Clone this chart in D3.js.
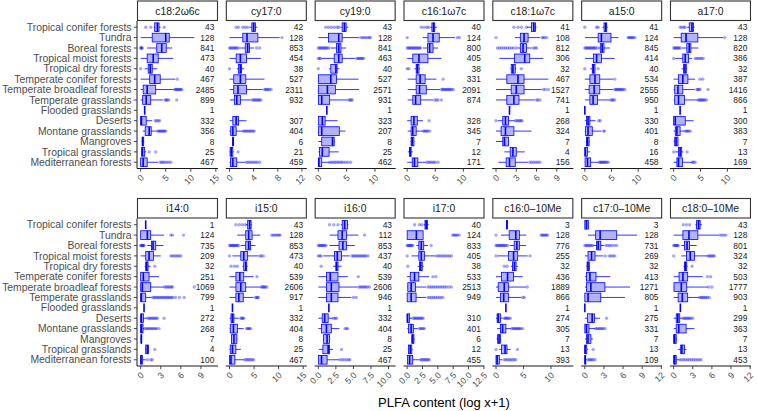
<!DOCTYPE html>
<html><head><meta charset="utf-8">
<script src="https://cdn.jsdelivr.net/npm/d3@7"></script>
<style>body{margin:0;background:#fff}svg{display:block}</style>
</head><body>
<svg id="chart" width="757" height="411"></svg>
<script>
// ---- data ----
const categories = ["Tropical conifer forests","Tundra","Boreal forests","Tropical moist forests","Tropical dry forests","Temperate conifer forests","Temperate broadleaf forests","Temperate grasslands","Flooded grasslands","Deserts","Montane grasslands","Mangroves","Tropical grasslands","Mediterranean forests"];
const plfaNames = ["c18:2ω6c","cy17:0","cy19:0","c16:1ω7c","c18:1ω7c","a15:0","a17:0","i14:0","i15:0","i16:0","i17:0","c16:0–10Me","c17:0–10Me","c18:0–10Me"];
// axis maximum (data range upper end) per panel
const axisMax = [14.7,12.2,13.0,13.1,10.9,13.8,13.7,11.0,15.0,10.5,12.0,13.4,11.55,11.55];
const tickValues = [[0,5,10,15],[0,4,8,12],[0,5,10],[0,5,10],[0,3,6,9],[0,5,10],[0,5,10],[0,3,6,9],[0,5,10,15],[0,2.5,5,7.5,10],[0,2.5,5,7.5,10,12.5],[0,5,10],[0,3,6,9,12],[0,3,6,9,12]];
const tickDecimals = [0,0,0,0,0,0,0,0,0,1,1,0,0,0];

// rows: [lower whisker, q1, median, q3, upper whisker, n, outliers]
const box_c18_2w6c = [
 [2.6,2.8,3.33,3.67,4.0,43,[1.0,2.0,4.7]],
 [0,2.3,5.0,5.7,10.7,128,[]],
 [1.3,3.2,4.2,5.1,6.3,841,[0,0.1,0.2,0.3]],
 [0,1.3,2.5,3.5,6.5,473,[]],
 [0.8,1.5,1.9,2.3,3.3,40,[0]],
 [0,1.8,2.8,3.9,6.9,467,[7.3]],
 [0,0.5,1.3,3.0,6.6,2485,[6.8,7.0,7.2,7.4,7.6,7.8,8.0,8.2]],
 [0,0.4,1.1,2.0,4.5,899,[4.9,5.1,5.3,5.6,7.2]],
 [0.8,0.8,0.8,0.8,0.8,1,[]],
 [0,0,0.15,1.1,2.3,332,[2.9,3.2,3.5,3.8]],
 [0.4,0.9,1.7,2.1,3.2,356,[3.4,3.6,3.8,4.0,4.2,4.4,4.6,4.8,5.0]],
 [0.2,0.3,0.4,0.6,0.7,8,[]],
 [0.1,0.2,0.35,0.8,1.1,25,[1.7,3.0]],
 [0,0,0.5,1.3,3.5,467,[3.9,4.2,4.5,4.8,5.2,5.6,6.0]]
];
const box_cy17_0 = [
 [3.3,3.7,4.0,4.3,4.6,42,[1.1,1.5,2.2,2.6,3.0]],
 [0,2.2,2.9,4.7,8.3,128,[8.7]],
 [1.6,2.6,3.0,3.3,4.1,853,[0,0.2,0.4,0.6,0.8,1.0,1.2,1.4,4.5,5.0]],
 [0,1.1,1.8,2.8,5.2,454,[]],
 [1.2,1.5,1.8,2.0,2.4,38,[0]],
 [0,0.7,1.8,2.7,5.8,527,[]],
 [0,0.7,1.4,2.8,5.5,2311,[5.8,6.0,6.2,6.4,6.6,6.9]],
 [0.05,0.8,1.2,1.8,3.6,932,[3.8,4.0,4.2,4.4,4.6,4.8,5.0,5.2]],
 null,
 [0,0.55,1.1,1.5,2.8,307,[]],
 [0,0.2,0.55,1.1,2.2,404,[2.3,2.5,2.7,2.9,3.1,3.3,3.5,3.7,3.9,4.1]],
 [0.5,0.5,0.6,0.65,0.7,6,[]],
 [0,0.1,0.3,0.55,0.7,21,[1.4]],
 [0,0.15,0.55,1.2,2.6,459,[2.8,3.1,3.4,3.7,4.0,4.3,4.6,5.0]]
];
const box_cy19_0 = [
 [3.9,4.2,4.6,4.9,5.3,43,[1.3,1.8,2.3,2.8,3.3,3.6]],
 [0,1.8,3.6,4.2,7.2,128,[7.5,7.8,8.1,8.4,8.7,9.0,9.2]],
 [2.2,3.2,3.6,4.0,4.9,841,[0,0.2,0.4,0.6,0.8,1.0,1.2,1.4,1.6,1.9]],
 [0.6,2.8,3.6,4.2,6.5,463,[0,0.2,0.4,6.8,7.0,7.2,7.4,7.6,7.8,8.0]],
 [1.9,2.2,3.1,3.3,3.7,40,[0]],
 [0,0,2.2,3.2,7.1,527,[]],
 [0,0,1.6,3.0,7.2,2571,[]],
 [0,0,0.6,2.0,5.2,931,[5.4,5.6,5.8,6.0]],
 [1.5,1.5,1.5,1.5,1.5,1,[]],
 [0,0,0.7,1.2,3.4,323,[]],
 [0,0,0.6,3.7,4.8,207,[]],
 [0,0.6,2.5,2.8,2.9,8,[]],
 [0,0.2,0.7,1.9,3.6,25,[]],
 [0,0,0.1,0.6,1.9,462,[2.0,2.3,2.6,2.9,3.2,3.5,3.8,4.1,4.4,4.8,5.2,5.7]]
];
const box_c16_1w7c = [
 [4.1,4.4,4.7,4.9,5.3,40,[2.5,3.0,3.5,3.8]],
 [2.8,3.7,4.6,5.7,8.5,124,[0,8.9,9.3]],
 [2.8,3.6,4.0,4.6,5.5,800,[0,0.2,0.4,0.6,0.8,1.0,1.2,1.4,1.6,1.8,2.0,2.2,2.4]],
 [0,1.0,2.1,3.7,6.1,405,[]],
 [1.3,1.6,1.8,2.1,2.3,38,[0,0.3]],
 [0.1,1.6,2.3,3.2,5.2,331,[6.4]],
 [0.1,1.6,2.2,3.4,5.8,2091,[6.1,6.3,6.5,6.7,6.9,7.1,7.3,7.5,7.7,7.9,8.2]],
 [0.1,1.0,1.5,2.4,4.6,874,[4.9,5.2,5.5,6.1]],
 null,
 [0,0.7,1.2,1.8,2.8,328,[3.9]],
 [0.1,0.7,1.0,1.6,2.8,345,[2.9,3.1,3.3,3.5,3.7,4.0]],
 [0.6,0.7,0.9,1.2,1.3,7,[]],
 [0.1,0.4,0.55,0.7,1.0,12,[]],
 [0,0.9,1.3,1.9,3.3,171,[3.5,3.8,4.1,4.4,4.7,5.0,5.5]]
];
const box_c18_1w7c = [
 [4.6,5.25,5.6,5.85,6.0,41,[2.65,3.25,3.75,4.5]],
 [2.8,3.6,4.15,4.75,6.5,108,[0,6.8,7.0,7.2,7.5]],
 [3.2,3.6,4.0,4.5,5.25,812,[0.2,0.5,0.8,1.1,1.4,1.7,2.0,2.3,2.6,3.0,5.5,5.8,6.0]],
 [0.5,2.75,4.25,5.0,7.0,306,[]],
 [2.15,2.25,2.5,2.85,3.0,32,[3.75]],
 [0,1.6,3.25,4.15,7.75,467,[]],
 [0,2.25,3.0,4.15,6.75,1527,[7.0,7.3,7.75]],
 [0,1.6,2.65,3.4,5.75,741,[6.0,6.2,6.5]],
 [2.0,2.0,2.0,2.0,2.0,1,[]],
 [0.25,1.0,1.4,1.85,2.75,268,[0,2.9,3.1,3.3,3.5,3.7,3.85]],
 [0,0.75,1.4,2.65,5.25,324,[]],
 [0,1.0,1.25,1.85,1.85,7,[]],
 [1.25,2.1,2.5,3.0,4.25,4,[]],
 [0.35,1.5,2.0,2.85,4.75,156,[5.0,5.3,5.6,5.9,6.2,6.5]]
];
const box_a15_0 = [
 [3.3,3.6,3.9,4.1,4.3,41,[0,2.2,2.5]],
 [0,2.5,3.1,4.9,6.3,124,[8.1,8.3,8.5,8.7,8.9,9.1,9.4]],
 [2.5,2.9,3.25,3.6,4.7,845,[0,0.2,0.4,0.6,0.8,1.0,1.2,1.4,1.6,1.8,2.0,2.3]],
 [0,1.6,2.2,3.1,5.6,414,[]],
 [1.0,1.4,1.6,1.9,2.0,40,[0,2.5]],
 [0,0.95,1.9,2.8,5.3,534,[5.6]],
 [0,0.8,1.75,2.8,5.3,2555,[5.6,5.8,6.0,6.2,6.4,6.6,6.8,7.0,7.2,7.5]],
 [0,0.95,1.55,2.4,4.7,950,[4.9,5.1,5.3,5.6]],
 [0,0,0,0,0,1,[]],
 [0,0.3,0.6,0.95,2.0,330,[2.6,2.9]],
 [0,0.1,0.6,1.4,3.1,401,[3.5,3.7]],
 [0.2,0.3,0.5,0.8,0.9,8,[]],
 [0,0,0.1,0.5,1.0,16,[]],
 [0,0.05,0.5,1.1,2.5,458,[2.7,2.9,3.1,3.3,3.5,3.7,3.9,4.1,4.4]]
];
const box_a17_0 = [
 [2.5,2.9,3.4,3.7,3.9,43,[1.2,1.5,1.9,2.1]],
 [0,1.4,2.3,4.5,9.2,128,[9.5]],
 [1.5,2.45,2.9,3.2,4.6,820,[0,0.2,0.4,0.6,0.8,1.0,1.2]],
 [0.3,1.7,2.15,2.75,3.4,386,[0,4.0,4.3,4.6,4.9,5.2,5.5]],
 [1.5,1.85,2.1,2.35,2.5,32,[]],
 [0,0.9,1.7,2.65,4.0,387,[4.9,5.4]],
 [0,0.2,0.8,1.7,3.9,1416,[4.3,4.5,4.7,4.9,6.4]],
 [0,0.2,0.9,2.0,4.5,866,[4.6,4.8,5.0,5.2,5.4,5.6,5.8,6.1]],
 [1.2,1.2,1.2,1.2,1.2,1,[]],
 [0,0,0.3,2.15,3.7,300,[]],
 [0,0.3,0.6,1.2,2.1,383,[2.2,2.4,2.6,2.8,3.1]],
 [0,0.2,0.45,0.8,0.8,7,[]],
 [0.3,0.9,1.2,1.5,1.8,13,[0,2.5]],
 [0,0.6,0.9,1.65,3.4,169,[3.5,3.7,4.0]]
];
const box_i14_0 = [
 [0.75,0.75,0.75,0.75,0.75,1,[]],
 [0,0,1.0,1.5,3.5,124,[4.5,4.75,6.4]],
 [1.0,1.6,1.85,2.25,3.4,735,[0,0.1,0.2,0.3,0.4,0.5]],
 [0,0.75,1.25,1.9,3.0,209,[4.5,4.75,5.0,5.25,5.5,5.75,6.0]],
 [0.6,0.75,0.9,1.1,1.5,32,[2.1]],
 [0,0,0.4,1.25,2.75,251,[]],
 [0,0,0.25,1.5,3.5,1069,[3.6,3.8,4.0,4.2,4.4,4.6,4.75,8.0]],
 [0,0,0.1,0.75,1.6,799,[1.8,2.0,2.2,2.4,2.6,2.8,3.0,3.2,3.4,3.6,3.8,4.0,4.2,4.4,4.6,4.8,5.2,5.8,6.5]],
 [0.5,0.5,0.5,0.5,0.5,1,[]],
 [0,0,0.1,0.4,1.0,272,[1.1,1.3,1.5,1.7,1.9,2.1,2.3,2.5,3.5]],
 [0,0,0.1,0.35,0.5,268,[0.6,0.8,1.0,1.2,1.4,1.6,1.8,2.0,2.2,2.4,2.75]],
 [0,0.05,0.1,0.15,0.2,7,[]],
 [0.7,0.75,1.0,1.15,1.2,4,[2.1]],
 [0,0,0.05,0.25,0.75,100,[1.0,1.5,1.75]]
];
const box_i15_0 = [
 [3.3,3.7,4.1,4.4,4.6,43,[1.3,2.0,2.6,3.2]],
 [1.6,3.3,3.9,4.6,6.3,128,[8.6,8.9,9.2,9.5,9.8,10.1,10.3]],
 [2.3,3.3,3.9,4.3,5.3,853,[0,0.2,0.4,0.6,0.8,1.0,1.2,1.4,1.6,1.9]],
 [0.6,2.3,2.9,3.7,5.9,473,[0,6.2,6.5,6.9]],
 [2.6,2.9,3.3,3.5,3.7,40,[0.3,1.0,1.6]],
 [0,1.3,2.1,2.9,4.9,539,[5.6]],
 [0,1.3,2.3,3.3,6.3,2606,[6.5,6.7,6.9,7.1,7.3,7.6]],
 [0,1.3,1.9,2.8,4.9,917,[5.3,5.5,5.7,5.9]],
 [0.6,0.6,0.6,0.6,0.6,1,[]],
 [0,0.3,0.6,0.9,1.9,332,[2.3,2.5,2.7,2.9]],
 [0,0.15,0.8,1.6,2.9,404,[3.5,3.7,3.9,4.1,4.3]],
 [0.3,0.4,0.9,1.5,1.6,8,[]],
 [0,0.15,0.6,1.3,2.3,25,[]],
 [0,0,0.3,1.1,2.9,467,[3.1,3.4,3.7,4.0,4.3,4.6,4.9]]
];
const box_i16_0 = [
 [3.2,3.4,3.75,4.15,4.3,43,[1.6,2.2,2.8]],
 [1.6,2.8,3.4,4.0,5.7,112,[6.6]],
 [1.6,2.95,3.5,4.0,5.2,853,[0,0.15,0.3,0.45,0.6,0.75,0.9,1.1]],
 [0.7,2.3,2.7,3.3,4.5,437,[0,0.2,0.4,4.8,5.0,5.2,5.4,5.6,5.8,6.0,6.2,6.4,6.6,6.8,7.1]],
 [2.1,2.5,2.6,2.8,3.3,40,[0.4]],
 [0,1.15,1.7,2.8,4.2,539,[5.7]],
 [0,1.15,1.85,2.95,5.6,2606,[5.8,6.0,6.2,6.4,6.6,6.8,7.0,7.3]],
 [0,1.15,1.85,2.8,4.7,946,[5.0,5.4]],
 [1.5,1.5,1.5,1.5,1.5,1,[]],
 [0,0.55,0.9,1.4,2.1,332,[2.2,2.4,2.6]],
 [0,0.45,1.15,1.85,3.0,404,[3.8,4.0,4.2]],
 [0.65,0.75,1.25,1.6,1.7,8,[]],
 [0.1,0.65,1.4,1.6,2.1,25,[3.3]],
 [0,0,0.45,1.25,2.95,467,[3.1,3.4,3.7,4.0,4.3,4.5]]
];
const box_i17_0 = [
 [2.7,2.9,3.1,3.3,3.5,40,[1.2,2.0,2.4]],
 [0,0,1.5,2.6,2.6,124,[7.4,7.6,7.8,8.0,8.2,8.5]],
 [1.5,1.9,2.3,2.7,3.4,833,[0,0.15,0.3,0.45,0.6,0.75,0.9,3.9]],
 [0.7,1.9,2.3,2.8,4.6,405,[0,4.8,5.1,5.4,5.7,6.0,6.3,6.6,6.9,7.2]],
 [1.7,2.0,2.2,2.45,2.7,38,[0.1]],
 [0,0.5,1.2,1.9,3.6,533,[4.2,4.7]],
 [0,0.1,0.65,1.35,3.1,2513,[3.4,3.7,4.0,4.3,4.6,4.9,5.2,5.5,5.8,6.1,6.4,6.8,7.2]],
 [0,0,0.65,1.45,3.1,949,[3.4,3.7,4.0,4.3,4.6,4.9,5.2,5.5,5.8]],
 null,
 [0,0,0.05,0.4,0.8,310,[1.0,1.2,1.4,1.6,1.8,2.0,2.2,2.4,2.6]],
 [0,0.2,0.65,1.0,1.75,401,[2.0,2.2,2.4,2.6,2.8]],
 [0.7,0.75,0.9,1.1,1.2,6,[]],
 [0.1,0.2,0.5,0.75,0.9,12,[]],
 [0,0.05,0.4,0.9,2.0,455,[2.2,2.4,2.6,2.8,3.0,3.2,3.4,3.6]]
];
const box_c16_0_10Me = [
 [1.9,1.9,2.0,2.05,2.1,3,[]],
 [0.9,2.4,3.6,4.25,5.5,128,[0,8.2,8.4,8.6,8.8,9.0,9.2,9.4]],
 [2.5,3.3,3.8,4.25,5.45,776,[0,0.2,0.4,0.6,0.8,1.0,1.2,1.4,1.6,1.8,2.1]],
 [0.3,2.25,3.2,3.95,5.75,255,[0,6.2]],
 [2.7,3.0,3.35,3.65,4.0,32,[1.5,2.0]],
 [0,1.0,2.1,3.2,4.85,436,[]],
 [0,0.4,1.5,2.25,5.45,1889,[5.7]],
 [0,0.8,1.4,2.25,4.55,866,[4.85,5.15]],
 [1.8,1.8,1.8,1.8,1.8,1,[]],
 [0,0.2,0.4,0.8,1.2,274,[1.5,1.7,1.9,2.1,2.3,2.6]],
 [0.2,0.8,1.2,1.8,2.7,305,[2.85,3.1,3.3,3.5,3.7,3.9,4.1,4.3,4.5,4.85]],
 [0.1,0.3,0.55,0.8,0.9,7,[]],
 [0.6,1.0,1.65,2.0,2.7,13,[0,3.9]],
 [0,0,0.2,0.6,1.2,393,[1.5,1.8,2.1,2.4,2.7,3.0,3.3,3.6]]
];
const box_c17_0_10Me = [
 [0,0,0.25,0.55,0.6,3,[]],
 [0.5,1.7,2.4,5.0,8.2,128,[]],
 [1.3,1.85,2.1,2.5,3.0,731,[0,0.2,0.4,0.6,0.8,1.0,1.2,3.3,3.6,3.9,4.2,4.6,5.0]],
 [0,0.5,1.05,1.6,2.9,269,[3.2,3.8,4.1,4.4,4.7]],
 [0.25,0.35,0.5,0.7,0.8,32,[]],
 [0,0.25,0.8,1.75,4.0,413,[]],
 [0,0.25,0.95,3.15,7.1,1271,[]],
 [0,0,0.5,2.5,6.3,805,[]],
 [0,0,0,0,0,1,[]],
 [0,0.4,1.15,1.5,2.4,275,[3.4]],
 [0,0,0.25,0.65,1.6,331,[1.7,1.9,2.1,2.3,2.5,2.7,2.9,3.2]],
 [0,0.25,0.5,0.95,1.3,7,[]],
 [0,0,0.05,0.3,0.5,13,[1.3]],
 [0,0,0.05,0.15,0.3,109,[0.5,0.7,0.9,1.1,1.3,1.6]]
];
const box_c18_0_10Me = [
 [3.4,3.6,3.9,4.15,4.45,43,[1.5,2.0,2.5]],
 [0,1.45,2.4,3.8,7.1,128,[7.3,7.6,7.9,8.2]],
 [1.2,1.7,2.1,2.5,3.6,801,[0,0.15,0.3,0.45,0.6,0.7]],
 [1.2,2.0,2.6,3.25,5.3,324,[0,5.4,5.6,5.8,6.0,6.2,6.4]],
 [1.55,1.7,1.85,2.05,2.2,32,[2.9]],
 [0,0.85,1.45,2.2,4.55,503,[5.3,5.8]],
 [0,0.05,1.2,2.05,5.35,1777,[5.5,6.0]],
 [0,0.7,1.35,2.2,4.0,903,[4.1,4.3,4.5,4.7,4.9,5.1,5.3,5.6]],
 [1.05,1.05,1.05,1.05,1.05,1,[]],
 [0,0.4,0.65,0.95,1.4,299,[1.5,1.7,1.9,2.1,2.3,2.5,2.7,3.0]],
 [0,0.4,0.8,1.95,3.25,363,[]],
 [0,0,0.15,0.4,0.5,7,[]],
 [0.65,1.1,1.3,1.7,2.0,13,[]],
 [0,0,0.15,0.4,0.9,453,[1.0,1.3,1.6,1.9,2.2,2.5,2.8,3.1,3.4,3.7,4.0,4.3]]
];
const panelBoxes = [box_c18_2w6c,box_cy17_0,box_cy19_0,box_c16_1w7c,box_c18_1w7c,box_a15_0,box_a17_0,
  box_i14_0,box_i15_0,box_i16_0,box_i17_0,box_c16_0_10Me,box_c17_0_10Me,box_c18_0_10Me];

// ---- layout ----
const FONT = "'Liberation Sans', Arial, Helvetica, sans-serif";
const svg = d3.select("#chart");
const panelLeft0 = 137, panelW = 81, panelStep = 88.83;
const rowTops = [21, 218.5], panelH = 147.5, stripH = 20.5;
const BLUE = "#0000FF";

plfaNames.forEach((name, i) => {
  const col = i % 7, row = Math.floor(i / 7);
  const left = panelLeft0 + col * panelStep, top = rowTops[row], bottom = top + panelH;
  const M = axisMax[i];
  const x = d3.scaleLinear().domain([-0.05 * M, 1.05 * M]).range([left, left + panelW]);
  const y = d3.scalePoint().domain(categories).range([top, bottom]).padding(0.6);
  const bh = y.step() * 0.84;
  const g = svg.append("g");

  // strip
  g.append("rect").attr("x", left + 0.5).attr("y", top - stripH + 0.5).attr("width", panelW - 1).attr("height", stripH - 1)
    .attr("fill", "#fff").attr("stroke", "#333").attr("stroke-width", 1.1);
  g.append("text").attr("x", left + panelW / 2).attr("y", top - stripH / 2 + 0.5).attr("dy", "0.35em")
    .attr("text-anchor", "middle").attr("font-family", FONT).attr("font-size", 10.4).attr("fill", "#1a1a1a").text(name);

  // boxes
  const rows = panelBoxes[i];
  rows.forEach((r, k) => {
    if (!r) return;
    const [lo, q1, med, q3, hi, n, outs] = r;
    const cy = y(categories[k]);
    const bg = g.append("g");
    bg.append("line").attr("x1", x(lo)).attr("x2", x(q1)).attr("y1", cy).attr("y2", cy).attr("stroke", BLUE).attr("stroke-width", 0.8);
    bg.append("line").attr("x1", x(q3)).attr("x2", x(hi)).attr("y1", cy).attr("y2", cy).attr("stroke", BLUE).attr("stroke-width", 0.8);
    bg.append("rect").attr("x", x(q1)).attr("y", cy - bh / 2).attr("width", Math.max(0, x(q3) - x(q1))).attr("height", bh)
      .attr("fill", "rgba(0,0,255,0.3)").attr("stroke", BLUE).attr("stroke-width", 0.8);
    bg.append("line").attr("x1", x(med)).attr("x2", x(med)).attr("y1", cy - bh / 2).attr("y2", cy + bh / 2).attr("stroke", BLUE).attr("stroke-width", 1.6);
    bg.selectAll("circle").data(outs).join("circle").attr("cx", d => x(d)).attr("cy", cy).attr("r", 1.7)
      .attr("fill", BLUE).attr("fill-opacity", 0.35);
    g.append("text").attr("x", x(M)).attr("y", cy).attr("dy", "0.36em").attr("text-anchor", "end")
      .attr("font-family", FONT).attr("font-size", 8.4).attr("fill", "#1a1a1a").text(n);
  });

  // x axis
  g.append("line").attr("x1", left).attr("x2", left + panelW).attr("y1", bottom).attr("y2", bottom).attr("stroke", "#000").attr("stroke-width", 0.9);
  const fmt = tickDecimals[i] ? d3.format(".1f") : d3.format("d");
  tickValues[i].forEach(t => {
    const tx = x(t);
    g.append("line").attr("x1", tx).attr("x2", tx).attr("y1", bottom).attr("y2", bottom + 3.2).attr("stroke", "#333").attr("stroke-width", 0.9);
    g.append("text").attr("transform", `translate(${tx - 0.5},${bottom + 5.5}) rotate(-45)`)
      .attr("text-anchor", "end").attr("dy", "0.7em").attr("font-family", FONT).attr("font-size", 8.8)
      .attr("fill", "#4d4d4d").text(fmt(t));
  });

  // y axis (first column only)
  if (col === 0) {
    g.append("line").attr("x1", left).attr("x2", left).attr("y1", top).attr("y2", bottom).attr("stroke", "#000").attr("stroke-width", 0.9);
    categories.forEach(c => {
      g.append("line").attr("x1", left - 3.2).attr("x2", left).attr("y1", y(c)).attr("y2", y(c)).attr("stroke", "#333").attr("stroke-width", 0.9);
      g.append("text").attr("x", left - 5.5).attr("y", y(c)).attr("dy", "0.35em").attr("text-anchor", "end")
        .attr("font-family", FONT).attr("font-size", 10.4).attr("fill", "#4d4d4d").text(c);
    });
  }
});

svg.append("text").attr("x", 444).attr("y", 407).attr("text-anchor", "middle").attr("font-family", FONT)
  .attr("font-size", 13).attr("fill", "#000").text("PLFA content (log x+1)");
</script>
</body></html>
